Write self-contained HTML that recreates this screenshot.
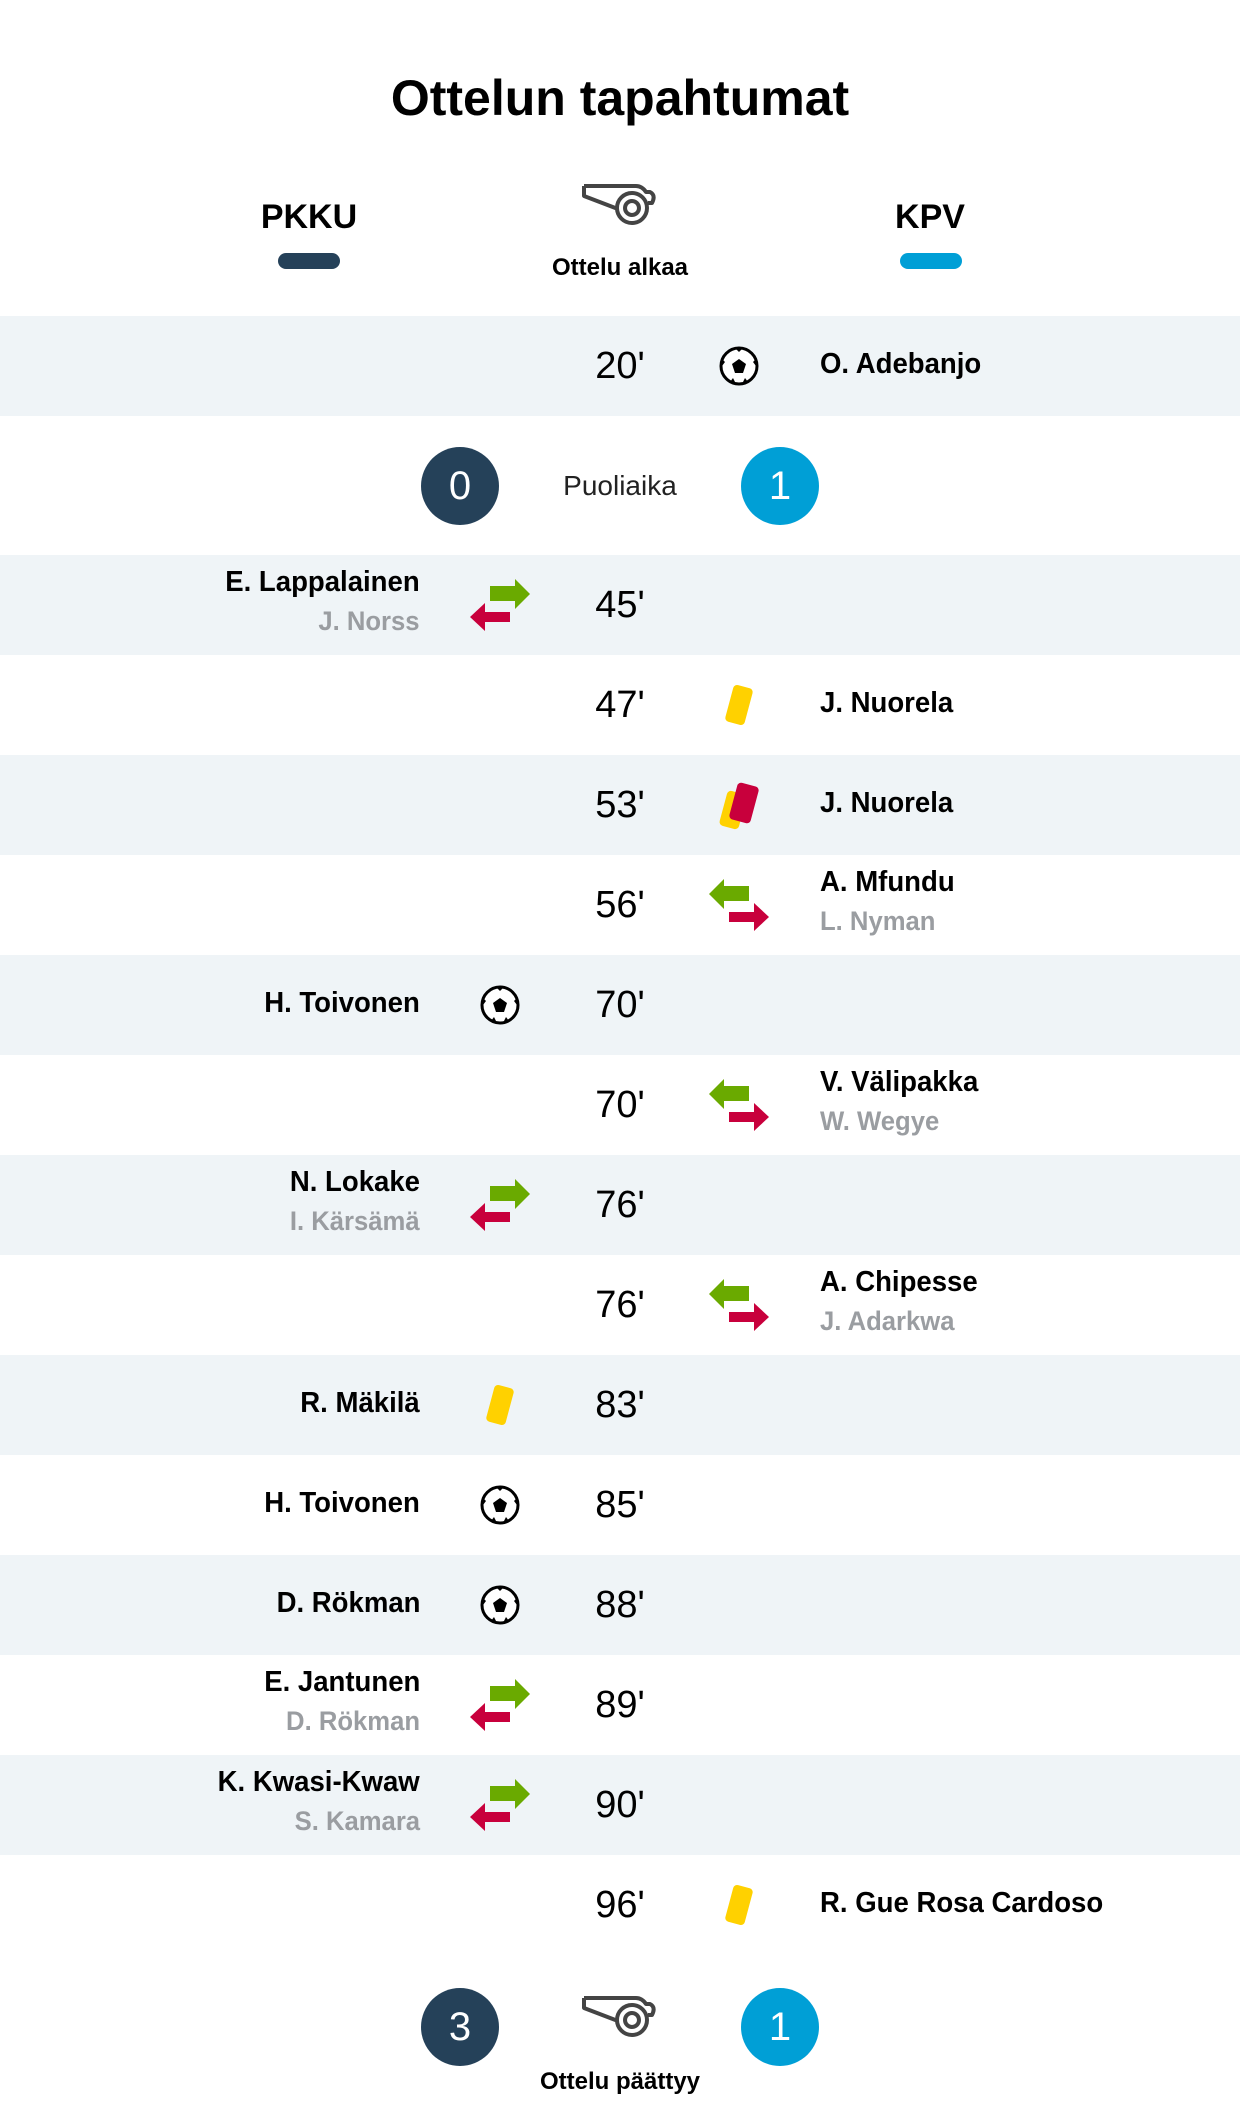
<!DOCTYPE html>
<html><head><meta charset="utf-8"><style>
*{margin:0;padding:0;box-sizing:border-box}
body{width:1240px;height:2118px;background:#fff;position:relative;font-family:"Liberation Sans",sans-serif;color:#000;overflow:hidden}
.a{position:absolute}
.row{position:absolute;left:0;width:1240px;height:100px}
.g{background:#eff4f7}
.min{position:absolute;left:560px;width:120px;text-align:center;font-size:38px;top:30px;line-height:40px}
.ln{position:absolute;right:820px;text-align:right;font-weight:bold;font-size:29px;white-space:nowrap;transform:scaleX(0.95);transform-origin:right}
.rn{position:absolute;left:820px;font-weight:bold;font-size:29px;white-space:nowrap;transform:scaleX(0.95);transform-origin:left}
.sub{color:#9a9da1;font-size:27px}
.ic{position:absolute}
.circ{position:absolute;width:78px;height:78px;border-radius:50%;color:#fff;font-size:40px;text-align:center;line-height:78px}
</style></head><body>
<div class="a" style="left:0;width:1240px;top:68px;text-align:center;font-size:50px;font-weight:bold;line-height:60px">Ottelun tapahtumat</div>
<div class="a" style="left:209px;width:200px;top:198px;text-align:center;font-size:34px;font-weight:bold">PKKU</div>
<div class="a" style="left:278px;top:253px;width:62px;height:16px;border-radius:8px;background:#254159"></div>
<div class="a" style="left:830px;width:200px;top:198px;text-align:center;font-size:34px;font-weight:bold">KPV</div>
<div class="a" style="left:900px;top:253px;width:62px;height:16px;border-radius:8px;background:#009fd6"></div>
<svg class="a" style="left:580px;top:183px" width="80" height="44" viewBox="0 0 80 44"><path d="M4 3 H56 Q62 3 66 9 L70 9 Q76 12 72 20 L68 20" fill="none" stroke="#444" stroke-width="4" stroke-linejoin="round"/><path d="M4 3 V13 L38 26" fill="none" stroke="#444" stroke-width="4" stroke-linejoin="round"/><circle cx="52" cy="25" r="15" fill="#fff" stroke="#444" stroke-width="4"/><circle cx="52" cy="25" r="7" fill="none" stroke="#444" stroke-width="4"/></svg>
<div class="a" style="left:0;width:1240px;top:254px;text-align:center;font-size:24px;font-weight:bold">Ottelu alkaa</div>

<div class="row g" style="top:316px"><div class="min">20'</div>
<div class="ic ball" style="left:719px;top:30px"></div>
<div class="rn" style="top:32px">O. Adebanjo</div></div>

<div class="circ" style="left:421px;top:447px;background:#254159">0</div>
<div class="a" style="left:520px;width:200px;top:470px;text-align:center;font-size:28px;color:#222">Puoliaika</div>
<div class="circ" style="left:741px;top:447px;background:#009fd6">1</div>

<div id="rows"></div>

<div class="circ" style="left:421px;top:1988px;background:#254159">3</div>
<svg class="a" style="left:580px;top:1995px" width="80" height="44" viewBox="0 0 80 44"><path d="M4 3 H56 Q62 3 66 9 L70 9 Q76 12 72 20 L68 20" fill="none" stroke="#444" stroke-width="4" stroke-linejoin="round"/><path d="M4 3 V13 L38 26" fill="none" stroke="#444" stroke-width="4" stroke-linejoin="round"/><circle cx="52" cy="25" r="15" fill="#fff" stroke="#444" stroke-width="4"/><circle cx="52" cy="25" r="7" fill="none" stroke="#444" stroke-width="4"/></svg>
<div class="circ" style="left:741px;top:1988px;background:#009fd6">1</div>
<div class="a" style="left:0;width:1240px;top:2068px;text-align:center;font-size:24px;font-weight:bold">Ottelu päättyy</div>

<script>
var ball='<svg width="40" height="40" viewBox="0 0 40 40"><defs><clipPath id="cb"><circle cx="20" cy="20" r="17"/></clipPath></defs><circle cx="20" cy="20" r="18" fill="#fff"/><g clip-path="url(#cb)" fill="#000"><polygon points="20,13 27,18 24,27 16,27 13,18"/><polygon points="14,0 26,0 20,6"/><polygon points="40,10 40,24 34,16"/><polygon points="0,10 0,24 6,16"/><polygon points="8,40 14,32 18,40"/><polygon points="22,40 26,32 32,40"/></g><circle cx="20" cy="20" r="18" fill="none" stroke="#000" stroke-width="3"/></svg>';
var subL='<svg width="60" height="52" viewBox="0 0 60 52"><path d="M20 7 H45 V0 L60 15 L45 30 V22 H20 Z" fill="#6aaa00"/><path d="M40 33 H15 V24 L0 38 L15 52 V43 H40 Z" fill="#c8003c"/></svg>';
var subR='<svg width="60" height="52" viewBox="0 0 60 52"><path d="M40 7 H15 V0 L0 15 L15 30 V22 H40 Z" fill="#6aaa00"/><path d="M20 33 H45 V24 L60 38 L45 52 V43 H20 Z" fill="#c8003c"/></svg>';
var yc='<svg width="40" height="50" viewBox="0 0 40 50"><rect x="10" y="6" width="20" height="38" rx="4" fill="#ffd100" transform="rotate(15 20 25)"/></svg>';
var rc='<svg width="44" height="52" viewBox="0 0 44 52"><rect x="6" y="12" width="20" height="36" rx="4" fill="#ffd100" transform="rotate(15 16 30)"/><rect x="16" y="4" width="22" height="38" rx="4" fill="#c8003c" transform="rotate(15 27 23)"/></svg>';
document.querySelector('.ball').innerHTML=ball;
var R=[
['L','45',subL,'E. Lappalainen','J. Norss'],
['R','47',yc,'J. Nuorela'],
['R','53',rc,'J. Nuorela'],
['R','56',subR,'A. Mfundu','L. Nyman'],
['L','70',ball,'H. Toivonen'],
['R','70',subR,'V. Välipakka','W. Wegye'],
['L','76',subL,'N. Lokake','I. Kärsämä'],
['R','76',subR,'A. Chipesse','J. Adarkwa'],
['L','83',yc,'R. Mäkilä'],
['L','85',ball,'H. Toivonen'],
['L','88',ball,'D. Rökman'],
['L','89',subL,'E. Jantunen','D. Rökman'],
['L','90',subL,'K. Kwasi-Kwaw','S. Kamara'],
['R','96',yc,'R. Gue Rosa Cardoso']];
var h='';
R.forEach(function(r,i){
 var top=555+i*100, g=(i%2==0)?' g':'';
 h+='<div class="row'+g+'" style="top:'+top+'px"><div class="min">'+r[1]+"'</div>";
 var isSub=r[4]!==undefined;
 var w=r[2]==ball?40:(r[2]==rc?44:(isSub?60:40)), ht=r[2]==ball?40:(isSub?52:50);
 var cx=r[0]=='L'?500:739;
 h+='<div class="ic" style="left:'+(cx-w/2)+'px;top:'+(50-ht/2)+'px">'+r[2]+'</div>';
 var cls=r[0]=='L'?'ln':'rn';
 if(isSub){
  h+='<div class="'+cls+'" style="top:11px">'+r[3]+'</div><div class="'+cls+' sub" style="top:51px">'+r[4]+'</div>';
 } else h+='<div class="'+cls+'" style="top:32px">'+r[3]+'</div>';
 h+='</div>';
});
document.getElementById('rows').outerHTML=h;
</script>
</body></html>
